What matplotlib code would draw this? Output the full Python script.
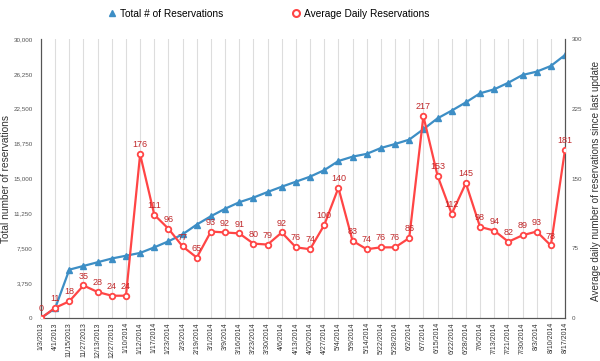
import matplotlib
matplotlib.use('Agg')
import matplotlib.pyplot as plt
import numpy as np

plt.rcParams['font.family'] = ['Liberation Sans', 'DejaVu Sans']

# fechas de cada actualizacion
fechas = ['1/3/2013', '4/1/2013', '11/15/2013', '11/27/2013', '12/13/2013', '12/27/2013',
          '1/10/2014', '1/12/2014', '1/17/2014', '1/23/2014', '2/3/2014', '2/19/2014',
          '3/1/2014', '3/9/2014', '3/16/2014', '3/23/2014', '3/30/2014', '4/6/2014',
          '4/13/2014', '4/20/2014', '4/27/2014', '5/4/2014', '5/9/2014', '5/14/2014',
          '5/22/2014', '5/28/2014', '6/2/2014', '6/7/2014', '6/15/2014', '6/22/2014',
          '6/28/2014', '7/6/2014', '7/13/2014', '7/21/2014', '7/30/2014', '8/3/2014',
          '8/10/2014', '8/17/2014']

total = [0, 1050, 5200, 5600, 6000, 6400, 6700, 7000, 7600, 8250, 9000, 10050,
         10950, 11750, 12450, 12950, 13550, 14120, 14660, 15200, 15900, 16880, 17350,
         17650, 18280, 18710, 19180, 20300, 21470, 22300, 23190, 24160, 24590, 25300,
         26130, 26490, 27100, 28280]

promedio = [0, 11, 18, 35, 28, 24, 24, 176, 111, 96, 77, 65, 93, 92, 91, 80, 79, 92,
            76, 74, 100, 140, 83, 74, 76, 76, 86, 217, 153, 112, 145, 98, 94, 82, 89,
            93, 78, 181]

azul = '#3d8ec5'
rojo = '#ff4545'
x = np.arange(len(fechas))

fig = plt.figure(figsize=(6, 3.61), dpi=100)
ax = fig.add_axes([0.0683, 0.119, 0.8734, 0.773])
ax2 = ax.twinx()

ax.plot(x, total, color=azul, lw=1.6, marker='^', ms=4.5, mfc=azul, mec=azul, zorder=3)
ax2.plot(x, promedio, color=rojo, lw=1.6, marker='o', ms=4, mfc='white', mec=rojo, mew=1.3, zorder=3)

for i, v in enumerate(promedio):
    ax2.annotate(str(v), (x[i], v), xytext=(0, 3.5), textcoords='offset points',
                 ha='center', va='bottom', fontsize=6.5, color='#c0282a')

ax.set_xlim(0, len(fechas) - 1)
ax.set_ylim(0, 30000)
ax2.set_ylim(0, 300)
ax.set_xticks(x)
ax.set_xticklabels(fechas, rotation=90, fontsize=5, color='#333333')
ax.set_yticks(np.arange(0, 30001, 3750))
ax.set_yticklabels(['{:,}'.format(int(t)) for t in np.arange(0, 30001, 3750)])
ax2.set_yticks([0, 75, 150, 225, 300])
ax.tick_params(axis='y', labelsize=4.5, colors='#555555', length=0, pad=6)
ax2.tick_params(axis='y', labelsize=4.5, colors='#555555', length=0, pad=5)
ax.tick_params(axis='x', length=0, pad=3)

ax.grid(axis='x', color='#dddddd', lw=0.8)
ax.set_axisbelow(True)
for a in (ax, ax2):
    a.spines['top'].set_visible(False)
    a.spines['left'].set_color('#555555')
    a.spines['right'].set_color('#555555')
    a.spines['bottom'].set_color('#555555')

ax.set_ylabel('Total number of reservations', fontsize=7.3, color='#333333')
ax2.set_ylabel('Average daily number of reservations since last update', fontsize=7.1,
               color='#333333')
ax.yaxis.set_label_coords(-0.057, 0.5)
ax2.yaxis.set_label_coords(1.05, 0.49)

h1 = ax.plot([], [], color=azul, marker='^', ls='none', ms=5)[0]
h2 = ax.plot([], [], color=rojo, marker='o', ls='none', ms=5, mfc='white', mew=1.5)[0]
fig.legend([h1, h2], ['Total # of Reservations', 'Average Daily Reservations'],
           loc='center', bbox_to_anchor=(0.447, 0.962), ncol=2, frameon=False,
           fontsize=7.3, columnspacing=6.6, handletextpad=0.3, handlelength=1)

plt.savefig('out.png', dpi=100)
